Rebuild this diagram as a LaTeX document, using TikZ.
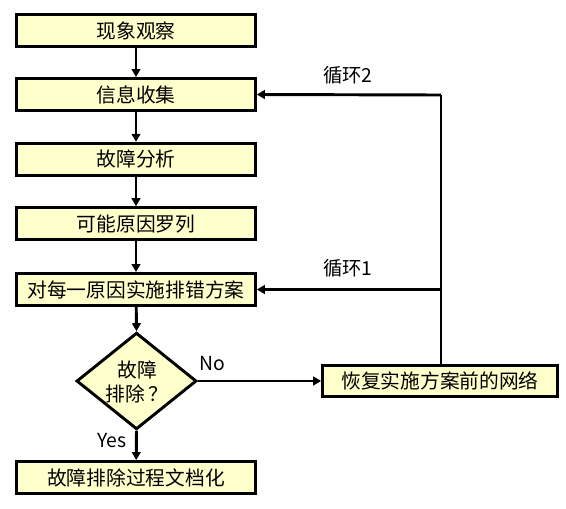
\documentclass[tikz,border=0pt]{standalone}
\usepackage{fontspec}
\setmainfont{Noto Sans CJK SC}
\usetikzlibrary{arrows.meta,shapes.geometric}
\definecolor{boxfill}{RGB}{255,255,204}
\tikzset{
  stepbox/.style={draw, line width=2.2pt, fill=boxfill, minimum width=179pt, minimum height=24pt, inner sep=0pt, font=\fontsize{14.8pt}{16pt}\selectfont},
  conn/.style={line width=2.2pt, -{Triangle[length=6pt,width=6.5pt]}},
  plain/.style={line width=2.2pt},
  lbl/.style={font=\fontsize{14.5pt}{16pt}\selectfont, inner sep=0pt}
}
\begin{document}
\begin{tikzpicture}[x=0.75pt,y=-0.75pt]
\useasboundingbox (0,0) rectangle (566,508);
\node[stepbox] (b1) at (136,30.5) {现象观察};
\node[stepbox] (b2) at (136,94.5) {信息收集};
\node[stepbox] (b3) at (136,159.3) {故障分析};
\node[stepbox] (b4) at (136,223.7) {可能原因罗列};
\node[stepbox] (b5) at (136,289.5) {对每一原因实施排错方案};
\node[draw, line width=2.2pt, fill=boxfill, diamond, minimum width=90pt, minimum height=72.5pt, inner sep=0pt] (d) at (136.5,381) {};
\node[lbl, align=center, font=\fontsize{14.8pt}{18pt}\selectfont] (dt) at (137,382) {故障\\排除\,？};
\node[stepbox] (b6) at (136,477.5) {故障排除过程文档化};
\node[stepbox, minimum width=176pt, minimum height=23.5pt] (r) at (440,381) {恢复实施方案前的网络};
\coordinate (c2) at (441,95);
\coordinate (c1) at (441,289.5);
\draw[conn] (b1) -- (b2);
\draw[conn] (b2) -- (b3);
\draw[conn] (b3) -- (b4);
\draw[conn] (b4) -- (b5);
\draw[conn] (b5) -- (d.north);
\draw[conn] (d.south) -- (b6);
\draw[conn] (d.east) -- (r.west);
\draw[plain] (r.north -| c2) -- (c2);
\draw[conn] (c2) -- (b2.east);
\draw[conn] (c1) -- (b5.east);
\node[lbl] (l2) at (348,75) {循环2};
\node[lbl] (l1) at (348,268) {循环1};
\node[lbl] (no) at (212,364) {No};
\node[lbl] (yes) at (112,441) {Yes};
\end{tikzpicture}
\end{document}
